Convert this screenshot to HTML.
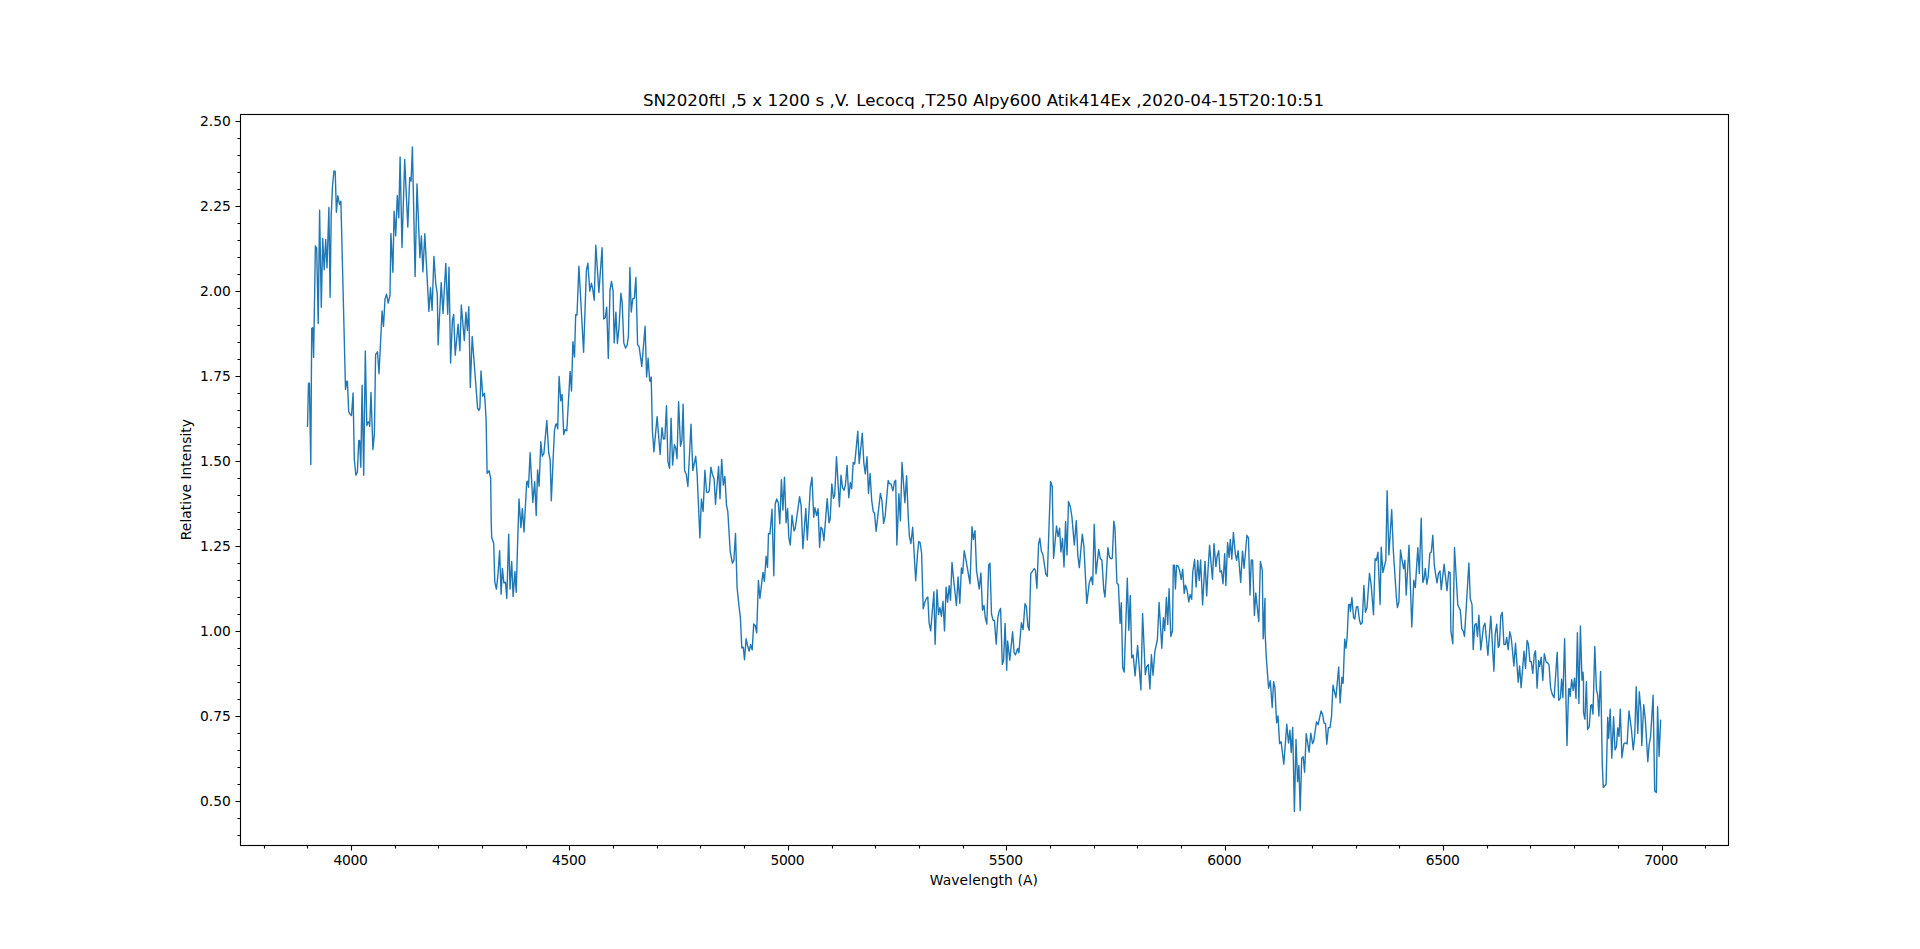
<!DOCTYPE html>
<html><head><meta charset="utf-8"><title>SN2020ftl spectrum</title>
<style>html,body{margin:0;padding:0;background:#fff;}body{width:1920px;height:949px;overflow:hidden;}svg{display:block;}text{font-family:"DejaVu Sans","Liberation Sans",sans-serif;fill:#000;}</style></head><body>
<svg width="1920" height="949" viewBox="0 0 1920 949">
<rect x="0" y="0" width="1920" height="949" fill="#ffffff"/>
<polyline fill="none" stroke="#1f77b4" stroke-width="1.39" stroke-linejoin="round" stroke-linecap="square" points="307.5,426.2 308.5,383.3 309.4,383.3 310.8,464.5 311.7,328.6 312.7,327.7 313.6,357.4 315.4,246.0 316.7,248.1 318.2,323.6 319.6,210.2 321.3,307.3 322.7,238.4 324.2,269.7 325.7,239.4 327.0,267.8 328.9,207.5 330.1,297.2 331.2,216.0 332.5,186.0 333.9,171.0 335.2,171.5 336.4,212.3 337.8,195.8 339.6,204.6 340.9,201.2 345.5,389.3 346.8,381.1 347.4,381.1 348.7,411.9 350.2,414.4 351.5,415.6 353.1,393.0 354.3,459.5 355.9,475.2 357.4,472.0 358.7,440.7 359.6,440.4 360.8,467.3 362.1,385.3 363.7,475.2 365.3,350.9 366.8,425.6 368.1,421.9 369.1,422.5 369.7,426.3 371.0,392.4 372.9,449.5 374.4,433.2 375.6,354.5 377.5,351.8 379.0,373.7 382.1,311.0 383.5,326.5 385.0,299.1 386.5,294.1 388.2,303.1 390.0,295.4 390.9,233.4 392.9,272.2 394.1,211.2 395.7,235.9 397.3,195.5 398.8,217.7 400.1,156.9 402.0,247.6 404.7,159.4 407.8,227.1 409.7,177.6 411.1,181.1 412.4,146.9 415.1,276.6 417.0,183.9 419.9,257.6 421.4,235.9 422.9,271.9 424.8,233.8 428.9,311.4 430.5,287.8 432.1,310.4 433.9,256.4 435.8,284.1 437.3,294.1 438.1,344.9 441.2,282.6 443.0,313.5 445.8,263.4 447.7,314.2 449.0,267.2 450.6,363.1 452.4,320.4 453.7,314.4 455.2,355.3 458.1,324.2 459.9,350.8 461.3,305.0 464.3,340.5 465.9,312.3 467.4,330.5 468.8,306.6 470.3,387.4 472.2,336.5 477.6,408.1 478.8,410.4 479.9,408.1 481.0,371.0 482.8,396.2 484.5,393.3 485.5,409.3 486.1,419.4 487.1,473.3 489.1,470.8 490.7,478.3 491.2,521.3 491.7,537.6 493.7,543.3 494.8,582.2 496.4,589.1 497.9,575.3 499.6,550.8 501.1,594.3 502.4,568.4 503.9,583.0 505.5,582.2 506.8,598.5 508.7,534.1 510.0,589.1 511.7,561.5 513.1,596.6 514.9,571.5 516.2,592.2 517.7,540.2 519.0,499.0 520.9,527.6 522.4,508.4 524.0,532.0 526.7,482.2 527.6,481.3 528.5,487.2 530.1,452.7 532.8,502.5 534.7,481.6 536.2,515.5 537.6,470.0 539.1,486.3 540.8,441.8 542.3,456.2 543.9,453.4 546.8,420.4 548.7,452.7 550.2,460.3 551.3,500.7 553.3,455.2 554.5,430.2 555.8,424.1 556.7,423.9 557.7,428.9 559.1,376.4 560.8,400.7 562.1,394.4 563.7,434.5 565.2,429.5 566.8,430.8 570.1,371.4 571.5,391.0 572.9,341.8 574.5,357.0 575.7,314.6 577.0,315.0 578.9,266.1 583.6,352.3 586.4,270.1 587.9,263.2 589.8,291.2 591.4,283.3 592.7,288.9 594.2,300.2 595.8,245.3 598.9,292.4 602.1,247.6 603.7,319.0 605.2,317.8 606.7,307.1 608.3,358.6 610.0,290.2 611.5,281.4 613.1,291.4 614.2,342.9 615.9,312.1 617.4,343.5 619.0,327.8 620.9,293.3 622.1,301.5 623.8,342.9 625.5,348.1 627.1,345.4 628.4,336.6 629.9,267.4 631.2,312.1 632.8,298.7 634.3,298.3 635.9,277.4 637.6,344.7 639.1,346.6 641.8,366.4 645.1,326.3 646.6,377.0 648.1,358.2 649.7,380.8 650.5,381.3 651.2,377.0 652.4,430.2 653.9,451.9 657.1,416.6 660.1,454.5 662.0,427.6 663.4,439.0 664.8,438.7 666.5,405.8 667.9,461.4 669.5,468.3 671.1,418.3 672.6,465.1 674.4,444.7 675.8,448.3 677.0,458.7 678.6,401.6 680.5,446.2 681.9,440.3 683.1,404.2 684.6,470.8 686.2,474.0 687.9,486.5 691.0,424.2 692.8,470.5 695.7,456.3 697.1,473.9 699.9,537.9 701.4,499.0 703.1,511.5 704.9,470.3 706.6,492.2 707.8,492.5 709.2,491.1 710.9,467.1 712.5,474.6 714.1,479.0 715.5,504.3 718.6,466.5 720.0,498.7 721.7,459.4 723.3,485.0 724.9,476.4 726.5,505.3 727.8,511.5 730.2,551.3 732.4,563.2 733.9,560.1 735.5,533.5 737.1,587.7 738.9,605.2 740.4,617.8 741.8,647.9 743.3,647.2 744.5,659.7 746.1,638.8 747.7,646.0 749.2,651.2 750.6,644.7 752.2,649.9 753.7,624.0 755.2,625.5 756.7,632.8 758.4,580.4 759.9,598.3 763.0,572.4 764.4,581.4 766.1,556.3 767.5,567.4 768.5,533.5 770.0,533.9 772.0,509.3 773.8,575.8 775.2,504.0 776.7,499.0 778.3,502.8 779.8,523.8 781.4,479.6 782.9,510.0 784.5,477.1 786.1,522.8 787.6,508.8 788.8,537.5 790.3,545.0 792.0,515.3 794.0,531.0 795.2,528.5 799.6,496.7 801.1,505.3 802.9,548.6 805.8,508.4 807.3,540.0 810.3,487.7 812.0,477.1 813.7,517.2 814.9,507.8 816.6,515.5 818.1,508.8 819.6,547.3 820.9,527.2 822.4,529.1 823.9,540.7 827.2,498.6 829.0,522.8 830.2,519.1 831.8,483.9 833.5,498.4 834.7,495.2 836.5,456.6 839.4,506.8 841.0,475.2 842.5,487.7 844.0,490.2 845.4,485.2 847.1,465.4 848.8,497.7 850.3,482.7 851.7,488.7 853.2,462.4 854.7,463.9 857.8,431.3 859.2,463.6 862.3,433.2 863.8,462.6 865.3,473.9 867.0,456.6 868.5,493.4 870.1,473.5 871.7,500.3 873.2,511.5 874.5,513.0 876.1,531.3 880.4,493.4 881.9,500.3 883.6,523.4 885.1,516.6 888.2,480.4 889.5,483.7 891.0,483.9 892.9,490.8 894.5,481.7 895.7,480.2 896.9,545.0 898.9,493.7 900.4,520.9 902.0,462.4 904.9,502.8 906.6,475.8 908.3,517.8 909.4,536.3 910.9,543.5 912.7,527.2 915.7,580.8 917.6,552.6 918.8,541.5 920.1,542.5 921.6,553.2 923.2,608.7 925.1,601.5 926.6,598.3 927.8,597.1 929.1,622.8 930.7,630.9 933.9,591.7 935.1,644.4 937.0,589.6 938.5,614.6 939.9,607.7 941.4,616.3 943.0,601.2 944.5,630.9 946.1,587.1 947.6,602.1 949.2,585.8 950.5,600.2 952.0,562.4 953.7,580.2 956.4,605.5 958.1,577.0 959.8,603.4 961.4,567.9 962.7,573.3 964.2,550.7 965.8,558.8 967.3,567.6 970.0,583.7 972.0,526.6 973.4,539.3 975.0,530.6 976.5,570.1 979.2,588.9 980.9,572.9 982.5,610.3 984.0,605.5 985.3,617.8 986.8,624.0 988.7,565.1 990.0,563.2 991.5,614.0 993.0,620.0 994.4,620.5 996.2,644.1 997.8,617.8 999.1,611.5 1000.6,608.4 1002.3,664.6 1003.6,660.2 1005.1,623.4 1006.7,670.2 1007.6,641.0 1009.8,660.2 1012.6,631.8 1014.1,652.7 1015.5,654.9 1017.6,648.5 1018.9,652.7 1021.4,622.8 1023.1,629.7 1025.0,603.6 1026.4,606.5 1027.9,626.6 1029.2,630.3 1030.8,573.6 1032.3,571.4 1034.2,568.6 1035.4,570.1 1036.9,588.3 1038.6,543.8 1039.8,538.2 1041.4,551.3 1042.9,554.5 1045.8,573.9 1047.3,576.4 1050.6,481.4 1052.2,486.5 1053.6,558.2 1056.5,526.0 1058.1,536.6 1059.6,528.1 1060.9,551.9 1062.5,538.5 1064.0,567.0 1065.6,521.6 1067.0,555.1 1068.5,501.5 1070.3,506.5 1071.9,516.6 1074.3,545.0 1076.3,520.6 1077.8,555.1 1079.3,567.6 1082.3,534.1 1083.9,546.3 1086.8,603.4 1089.3,582.7 1091.2,577.0 1092.7,584.5 1094.2,524.3 1096.0,573.9 1098.7,549.4 1100.4,558.8 1101.9,560.1 1103.8,590.2 1105.0,597.1 1107.9,547.6 1109.4,557.0 1111.0,558.8 1112.3,558.2 1113.8,521.2 1115.0,528.5 1116.9,583.3 1118.4,584.5 1120.1,623.4 1121.3,602.7 1122.7,667.7 1124.2,672.1 1127.3,578.3 1128.8,630.3 1130.3,595.5 1131.7,657.7 1133.2,655.2 1135.1,675.9 1137.6,645.4 1140.9,690.0 1142.6,613.5 1145.3,674.6 1146.8,666.5 1148.3,664.6 1149.9,689.0 1151.4,654.8 1153.0,675.2 1154.9,651.4 1157.4,639.5 1159.1,602.5 1161.8,648.3 1163.4,617.6 1164.7,630.7 1166.4,597.5 1167.7,624.5 1169.1,588.7 1170.8,636.6 1172.5,630.7 1173.3,565.1 1174.5,565.1 1175.4,589.0 1176.6,565.4 1178.3,566.4 1179.5,570.2 1181.2,579.6 1182.7,569.2 1184.2,593.4 1185.5,585.2 1187.1,590.2 1188.8,601.9 1190.2,594.6 1191.7,599.2 1192.7,572.7 1194.6,559.5 1196.1,587.1 1197.7,560.4 1199.2,580.4 1200.6,559.9 1202.6,605.0 1205.0,561.4 1206.7,595.9 1208.0,570.2 1209.6,545.1 1211.1,563.9 1212.5,579.2 1214.0,543.6 1215.9,566.6 1217.1,556.4 1218.7,550.7 1220.0,572.0 1221.5,570.8 1223.0,583.7 1224.7,553.6 1225.9,585.5 1227.6,542.6 1229.1,557.4 1230.3,539.4 1231.8,559.1 1233.4,532.5 1235.3,553.9 1236.6,560.4 1238.1,550.7 1240.7,582.4 1242.5,551.1 1244.1,568.3 1246.9,535.3 1248.5,538.2 1250.0,595.0 1251.3,559.9 1252.6,560.1 1254.4,615.5 1255.8,593.0 1258.8,621.6 1260.4,561.4 1262.3,570.2 1263.2,638.8 1265.0,598.4 1265.1,632.5 1266.3,657.6 1268.6,688.3 1270.3,680.8 1272.2,707.5 1273.6,681.7 1274.9,687.7 1276.6,722.8 1278.0,715.9 1279.6,743.6 1281.1,741.7 1283.8,764.2 1286.8,724.3 1288.5,743.0 1289.9,730.3 1291.2,752.5 1292.7,727.5 1294.4,811.5 1296.0,739.5 1297.6,781.6 1298.9,765.5 1300.2,810.6 1301.7,758.2 1303.2,756.7 1304.6,772.3 1306.2,733.7 1309.1,752.1 1310.8,733.1 1312.5,743.6 1313.7,741.1 1316.5,721.8 1318.1,724.7 1321.1,710.9 1322.8,715.3 1324.0,723.1 1325.5,723.7 1326.8,744.3 1328.4,727.6 1330.0,727.6 1331.5,716.6 1333.0,685.2 1335.9,697.7 1338.7,667.0 1340.1,703.0 1341.9,677.3 1343.1,683.3 1344.7,639.1 1346.0,648.2 1347.2,636.3 1348.6,604.6 1349.8,604.3 1350.4,611.5 1351.9,597.5 1353.6,617.8 1354.8,619.1 1356.3,607.1 1357.8,606.5 1359.5,620.3 1360.7,624.3 1362.2,622.8 1363.9,585.5 1365.4,612.2 1367.0,607.8 1369.5,573.4 1371.1,584.1 1373.5,614.8 1375.1,558.7 1376.4,560.3 1377.9,552.1 1380.1,604.4 1381.2,547.1 1382.9,572.5 1385.8,560.3 1387.1,490.7 1388.9,555.0 1391.7,509.8 1393.3,550.2 1396.4,597.5 1397.4,607.6 1398.9,601.9 1400.5,550.0 1402.1,560.3 1403.6,568.8 1404.9,560.3 1406.2,595.1 1409.0,545.2 1411.8,627.0 1413.8,580.3 1415.3,587.6 1417.8,547.7 1419.3,573.4 1421.2,518.2 1422.8,582.6 1424.0,579.1 1425.3,568.4 1426.8,584.1 1428.2,576.6 1429.9,553.0 1431.3,552.1 1432.8,535.2 1434.3,565.3 1437.0,582.8 1438.5,573.4 1440.0,570.9 1441.2,589.7 1444.1,564.3 1447.0,590.6 1448.7,571.8 1450.1,572.5 1450.9,631.4 1452.8,643.7 1454.5,547.5 1457.8,605.0 1460.3,610.1 1461.8,628.9 1463.1,630.8 1464.5,636.4 1468.9,563.0 1470.3,598.8 1472.0,604.4 1473.2,649.6 1474.7,625.1 1476.2,623.6 1477.5,636.4 1478.9,615.1 1480.8,649.9 1483.5,626.4 1485.0,623.2 1487.9,655.2 1490.8,616.1 1493.9,671.3 1495.2,633.9 1496.7,624.1 1498.3,647.4 1499.4,645.2 1500.8,615.7 1502.3,612.3 1503.9,644.5 1505.5,644.5 1506.7,637.4 1508.2,649.6 1509.8,631.6 1511.3,638.3 1513.9,665.9 1515.5,643.3 1518.2,682.2 1519.6,665.9 1521.1,687.6 1524.0,651.2 1525.5,668.4 1527.1,640.4 1528.4,643.9 1529.9,661.5 1531.2,661.5 1532.8,673.4 1534.3,653.9 1535.5,650.8 1537.1,688.1 1538.7,660.8 1539.7,666.5 1541.2,657.1 1542.8,680.5 1544.3,653.7 1546.2,662.1 1547.5,662.7 1549.0,664.6 1550.6,687.8 1552.2,694.1 1554.1,697.8 1557.2,652.3 1558.7,700.3 1560.4,698.1 1561.6,679.3 1562.9,697.8 1564.6,638.7 1567.0,745.4 1568.6,689.0 1569.5,688.7 1570.1,696.5 1571.7,679.6 1573.2,690.3 1574.5,678.3 1576.0,698.4 1577.4,632.6 1578.9,703.4 1580.4,625.9 1582.0,680.2 1583.0,672.1 1583.5,680.2 1583.5,712.5 1584.9,719.1 1586.4,681.7 1587.6,729.5 1589.2,727.0 1590.8,705.3 1591.8,704.7 1593.0,714.1 1594.8,646.4 1596.4,689.0 1597.7,695.3 1598.9,716.0 1600.6,671.4 1602.3,765.2 1603.3,787.5 1606.1,784.3 1607.7,717.2 1608.7,738.2 1610.2,709.3 1611.8,758.3 1613.6,716.6 1615.0,749.9 1616.5,746.4 1617.7,727.9 1619.0,736.4 1620.3,709.1 1621.9,757.7 1623.8,743.9 1625.3,742.9 1627.1,743.9 1629.0,710.9 1631.5,730.1 1633.2,749.8 1634.7,736.4 1636.2,686.7 1637.8,733.2 1639.3,691.8 1640.9,710.3 1641.8,745.4 1643.7,704.7 1645.3,719.1 1647.8,761.8 1649.1,745.1 1650.6,736.4 1653.1,695.3 1654.7,790.9 1656.4,792.5 1657.6,706.8 1659.1,756.4 1660.6,720.3"/>
<path d="M351.50 845.50v5 M569.50 845.50v5 M788.50 845.50v5 M1006.50 845.50v5 M1225.50 845.50v5 M1443.50 845.50v5 M1662.50 845.50v5 M264.50 845.50v3 M307.50 845.50v3 M395.50 845.50v3 M438.50 845.50v3 M482.50 845.50v3 M526.50 845.50v3 M613.50 845.50v3 M657.50 845.50v3 M700.50 845.50v3 M744.50 845.50v3 M832.50 845.50v3 M875.50 845.50v3 M919.50 845.50v3 M963.50 845.50v3 M1050.50 845.50v3 M1094.50 845.50v3 M1137.50 845.50v3 M1181.50 845.50v3 M1268.50 845.50v3 M1312.50 845.50v3 M1356.50 845.50v3 M1399.50 845.50v3 M1487.50 845.50v3 M1530.50 845.50v3 M1574.50 845.50v3 M1618.50 845.50v3 M1705.50 845.50v3 M240.50 801.50h-5 M240.50 716.50h-5 M240.50 631.50h-5 M240.50 546.50h-5 M240.50 461.50h-5 M240.50 376.50h-5 M240.50 291.50h-5 M240.50 206.50h-5 M240.50 121.50h-5 M240.50 835.50h-3 M240.50 818.50h-3 M240.50 784.50h-3 M240.50 767.50h-3 M240.50 750.50h-3 M240.50 733.50h-3 M240.50 699.50h-3 M240.50 682.50h-3 M240.50 665.50h-3 M240.50 648.50h-3 M240.50 614.50h-3 M240.50 597.50h-3 M240.50 580.50h-3 M240.50 563.50h-3 M240.50 529.50h-3 M240.50 512.50h-3 M240.50 495.50h-3 M240.50 478.50h-3 M240.50 444.50h-3 M240.50 427.50h-3 M240.50 410.50h-3 M240.50 393.50h-3 M240.50 359.50h-3 M240.50 342.50h-3 M240.50 325.50h-3 M240.50 308.50h-3 M240.50 274.50h-3 M240.50 257.50h-3 M240.50 240.50h-3 M240.50 223.50h-3 M240.50 189.50h-3 M240.50 172.50h-3 M240.50 155.50h-3 M240.50 138.50h-3" stroke="#000" stroke-width="1.11" fill="none"/>
<rect x="240.50" y="114.50" width="1488.00" height="731.00" fill="none" stroke="#000" stroke-width="1.11"/>
<text x="350.68" y="865" font-size="13.89" text-anchor="middle" textLength="34.2" lengthAdjust="spacing">4000</text>
<text x="569.11" y="865" font-size="13.89" text-anchor="middle" textLength="34.2" lengthAdjust="spacing">4500</text>
<text x="787.53" y="865" font-size="13.89" text-anchor="middle" textLength="34.2" lengthAdjust="spacing">5000</text>
<text x="1005.96" y="865" font-size="13.89" text-anchor="middle" textLength="34.2" lengthAdjust="spacing">5500</text>
<text x="1224.38" y="865" font-size="13.89" text-anchor="middle" textLength="34.2" lengthAdjust="spacing">6000</text>
<text x="1442.81" y="865" font-size="13.89" text-anchor="middle" textLength="34.2" lengthAdjust="spacing">6500</text>
<text x="1661.23" y="865" font-size="13.89" text-anchor="middle" textLength="34.2" lengthAdjust="spacing">7000</text>
<text x="230.9" y="805.80" font-size="13.89" text-anchor="end">0.50</text>
<text x="230.9" y="720.80" font-size="13.89" text-anchor="end">0.75</text>
<text x="230.9" y="635.80" font-size="13.89" text-anchor="end">1.00</text>
<text x="230.9" y="550.80" font-size="13.89" text-anchor="end">1.25</text>
<text x="230.9" y="465.80" font-size="13.89" text-anchor="end">1.50</text>
<text x="230.9" y="380.80" font-size="13.89" text-anchor="end">1.75</text>
<text x="230.9" y="295.80" font-size="13.89" text-anchor="end">2.00</text>
<text x="230.9" y="210.80" font-size="13.89" text-anchor="end">2.25</text>
<text x="230.9" y="125.80" font-size="13.89" text-anchor="end">2.50</text>
<text x="983.9" y="885" font-size="13.89" text-anchor="middle" textLength="108.2" lengthAdjust="spacing">Wavelength (A)</text>
<text transform="translate(190.5,479.6) rotate(-90)" font-size="13.89" text-anchor="middle" textLength="121.2" lengthAdjust="spacing">Relative Intensity</text>
<text x="642.9" y="106.2" font-size="16.67" textLength="206.6" lengthAdjust="spacing">SN2020ftl ,5 x 1200 s ,V.</text>
<text x="856.3" y="106.2" font-size="16.67" textLength="467.8" lengthAdjust="spacing">Lecocq ,T250 Alpy600 Atik414Ex ,2020-04-15T20:10:51</text>
</svg></body></html>
